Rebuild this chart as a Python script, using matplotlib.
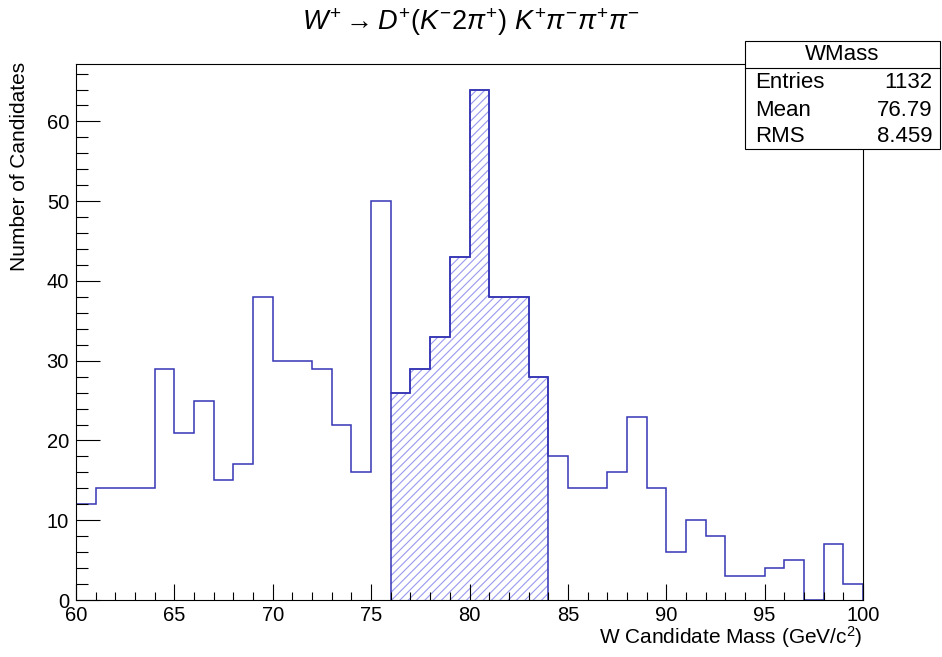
import numpy as np
import matplotlib
matplotlib.use("Agg")
import matplotlib.pyplot as plt
from matplotlib.patches import Rectangle
from matplotlib.lines import Line2D

plt.rcParams['font.family'] = ['Liberation Sans', 'DejaVu Sans']
plt.rcParams['mathtext.fontset'] = 'custom'
plt.rcParams['mathtext.rm'] = 'Liberation Sans'
plt.rcParams['mathtext.it'] = 'Liberation Sans:italic'
plt.rcParams['mathtext.default'] = 'it'
plt.rcParams['hatch.linewidth'] = 0.8

# ---- data ----
bin_edges = np.arange(60, 101, 1)
counts = [12, 14, 14, 14, 29, 21, 25, 15, 17, 38,
          30, 30, 29, 22, 16, 50, 26, 29, 33, 43,
          64, 38, 38, 28, 18, 14, 14, 16, 23, 14,
          6, 10, 8, 3, 3, 4, 5, 0, 7, 2]
sel_lo, sel_hi = 76, 84
stats_name = "WMass"
stats_labels = ["Entries", "Mean", "RMS"]
stats_values = ["1132", "76.79", "8.459"]
title = r"$W^{+} \rightarrow D^{+}(K^{-}2\pi^{+})\ K^{+}\pi^{-}\pi^{+}\pi^{-}$"
xlabel = r"W Candidate Mass (GeV/c$^{\mathrm{2}}$)"
ylabel = "Number of Candidates"

counts = np.array(counts)
W, H = 942, 657
fig = plt.figure(figsize=(W / 100, H / 100), dpi=100)
ax = fig.add_axes([76 / W, 1 - 600 / H, (863 - 76) / W, (600 - 64) / H])

line_col = '#3535b5'
hatch_col = '#9a9af0'

i0 = int(np.searchsorted(bin_edges, sel_lo))
i1 = int(np.searchsorted(bin_edges, sel_hi))
sel_vals = counts[i0:i1]
sel_edges = bin_edges[i0:i1 + 1]
ax.stairs(sel_vals, sel_edges, fill=True, facecolor='none', edgecolor=hatch_col,
          hatch='////', linewidth=0)
ax.stairs(sel_vals, sel_edges, color=line_col, linewidth=1.1)
ax.stairs(counts, bin_edges, color=line_col, linewidth=1.1)

ax.set_xlim(60, 100)
ax.set_ylim(0, counts.max() * 1.05)
ax.set_xticks(np.arange(60, 101, 5))
ax.set_xticks(np.arange(60, 101, 1), minor=True)
ax.set_yticks(np.arange(0, 61, 10))
ax.set_yticks(np.arange(0, 67, 2), minor=True)
ax.tick_params(axis='x', which='major', direction='in', length=11.5, width=0.8,
               labelsize=14.5, pad=4, top=False)
ax.tick_params(axis='x', which='minor', direction='in', length=5.8, width=0.8, top=False)
ax.tick_params(axis='y', which='major', direction='in', length=17, width=0.8,
               labelsize=14.5, pad=5, right=False)
ax.tick_params(axis='y', which='minor', direction='in', length=8.5, width=0.8, right=False)
for s in ax.spines.values():
    s.set_linewidth(0.8)

fig.text(863 / W, 1 - 637 / H, xlabel, ha='right', va='center', fontsize=15)
fig.text(20 / W, 1 - 62 / H, ylabel, ha='center', va='top', rotation=90, fontsize=15)
fig.text(0.5, 1 - 22 / H, title, ha='center', va='center', fontsize=19.5)

# stats box
bx0, bx1, by0, by1, byh = 745, 940, 41, 149, 68
fig.add_artist(Rectangle((bx0 / W, 1 - by1 / H), (bx1 - bx0) / W, (by1 - by0) / H,
                         transform=fig.transFigure, facecolor='white',
                         edgecolor='black', linewidth=0.8, zorder=5))
fig.add_artist(Line2D([bx0 / W, bx1 / W], [1 - byh / H, 1 - byh / H],
                      transform=fig.transFigure, color='black', linewidth=0.8, zorder=6))
fig.text((bx0 + bx1) / 2 / W, 1 - (by0 + byh) / 2 / H, stats_name, ha='center',
         va='center', fontsize=16, zorder=7)
row_y = [83, 110, 136]
for lab, val, yy in zip(stats_labels, stats_values, row_y):
    fig.text(755 / W, 1 - yy / H, lab, ha='left', va='center', fontsize=16, zorder=7)
    fig.text(932 / W, 1 - yy / H, val, ha='right', va='center', fontsize=16, zorder=7)

fig.savefig("out.png", dpi=100)
